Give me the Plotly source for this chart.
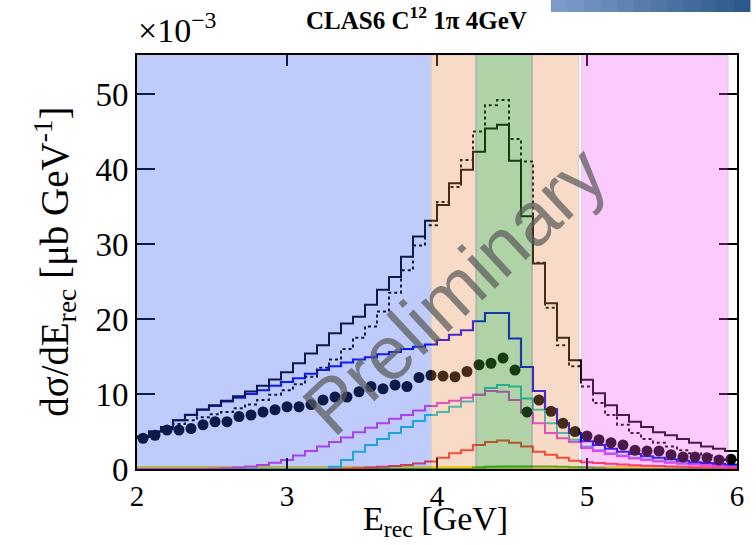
import numpy as np
import plotly.graph_objects as go

# ---------------- data ----------------
bin_edges = np.round(np.linspace(2.0, 6.0, 51), 2)          # 50 bins of 0.08 GeV
bin_centers = np.round((bin_edges[:-1] + bin_edges[1:]) / 2, 2)

total_mc = [4.3, 5.0, 5.6, 6.5, 7.25, 7.95, 8.5, 9.1, 9.7, 10.35,
            11.1, 11.95, 12.9, 14.1, 15.4, 16.5, 18.1, 19.4, 20.3, 21.9,
            23.9, 25.6, 28.3, 31.0, 33.1, 35.2, 38.1, 39.9, 42.3, 45.4,
            45.9, 41.1, 33.7, 27.4, 22.1, 17.5, 14.5, 11.9, 10.1, 8.5,
            7.2, 6.3, 5.6, 4.9, 4.5, 4.0, 3.5, 3.0, 2.7, 2.4]

total_alt = [4.2, 4.8, 5.35, 6.0, 6.5, 6.9, 7.3, 7.6, 8.1, 8.6,
             9.2, 9.9, 10.5, 11.3, 12.3, 13.5, 14.6, 16.0, 17.5, 19.0,
             21.0, 23.5, 26.5, 29.8, 32.5, 35.6, 37.6, 41.2, 45.0, 48.5,
             49.2, 44.0, 41.0, 27.5, 21.5, 16.5, 13.7, 11.0, 8.8, 7.2,
             5.9, 4.8, 4.0, 3.5, 3.0, 2.5, 2.1, 1.8, 1.5, 1.2]

comp_blue = [4.3, 5.0, 5.6, 6.5, 7.2, 7.9, 8.4, 9.0, 9.5, 10.0,
             10.5, 11.1, 11.6, 12.1, 12.7, 13.2, 13.7, 14.2, 14.6, 14.9,
             15.3, 15.6, 16.0, 16.3, 16.6, 17.2, 17.9, 18.5, 19.7, 20.8,
             20.8, 17.4, 13.6, 10.4, 8.0, 6.1, 4.8, 3.7, 3.2, 2.7,
             2.3, 2.0, 1.7, 1.5, 1.3, 1.1, 0.9, 0.8, 0.7, 0.6]

comp_magenta = [0.0, 0.0, 0.0, 0.0, 0.0, 0.0, 0.05, 0.1, 0.2, 0.35,
                0.55, 0.85, 1.2, 1.8, 2.4, 3.0, 3.6, 4.2, 4.9, 5.5,
                6.1, 6.7, 7.2, 7.8, 8.4, 8.8, 9.1, 9.5, 9.9, 10.4,
                10.3, 9.2, 7.5, 6.1, 4.8, 4.1, 3.6, 2.8, 2.4, 2.0,
                1.7, 1.4, 1.2, 1.0, 0.85, 0.7, 0.6, 0.5, 0.4, 0.35]

comp_cyan = [0.0, 0.0, 0.0, 0.0, 0.0, 0.0, 0.0, 0.0, 0.0, 0.0,
             0.0, 0.0, 0.0, 0.0, 0.0, 0.0, 0.3, 1.2, 2.3, 3.2,
             4.0, 4.8, 5.6, 6.4, 7.2, 7.6, 8.3, 9.0, 9.9, 10.8,
             11.2, 11.0, 9.4, 7.9, 6.1, 4.8, 3.9, 3.0, 2.5, 2.1,
             1.8, 1.5, 1.3, 1.1, 0.9, 0.8, 0.7, 0.6, 0.5, 0.45]

comp_red = [0.0, 0.0, 0.0, 0.0, 0.0, 0.0, 0.0, 0.0, 0.0, 0.0,
            0.0, 0.0, 0.0, 0.0, 0.0, 0.0, 0.0, 0.05, 0.1, 0.2,
            0.3, 0.4, 0.55, 0.75, 1.0, 1.5, 2.1, 2.5, 3.2, 3.6,
            3.8, 3.5, 3.0, 2.3, 1.9, 1.5, 1.1, 0.9, 0.8, 0.7,
            0.6, 0.5, 0.45, 0.4, 0.35, 0.3, 0.25, 0.2, 0.2, 0.15]

comp_green = [0.0, 0.0, 0.0, 0.0, 0.0, 0.0, 0.0, 0.0, 0.0, 0.0,
              0.0, 0.0, 0.0, 0.0, 0.0, 0.0, 0.0, 0.0, 0.0, 0.0,
              0.0, 0.0, 0.0, 0.0, 0.0, 0.0, 0.0, 0.0, 0.2, 0.3,
              0.35, 0.35, 0.35, 0.35, 0.35, 0.3, 0.25, 0.2, 0.1, 0.0,
              0.0, 0.0, 0.0, 0.0, 0.0, 0.0, 0.0, 0.0, 0.0, 0.0]

comp_yellow = [0.2, 0.2, 0.2, 0.2, 0.2, 0.2, 0.2, 0.2, 0.2, 0.2,
               0.2, 0.2, 0.2, 0.2, 0.2, 0.2, 0.2, 0.2, 0.2, 0.2,
               0.2, 0.2, 0.2, 0.2, 0.2, 0.2, 0.2, 0.2, 0.2, 0.2,
               0.2, 0.2, 0.2, 0.2, 0.2, 0.2, 0.2, 0.2, 0.2, 0.2,
               0.2, 0.2, 0.2, 0.2, 0.2, 0.2, 0.2, 0.2, 0.2, 0.2]

data_points = [4.1, 4.5, 5.2, 5.2, 5.4, 5.9, 6.3, 6.3, 7.0, 7.2,
               7.6, 7.9, 8.3, 8.3, 8.6, 9.2, 9.6, 9.6, 10.3, 11.0,
               10.7, 11.2, 11.0, 12.2, 12.5, 12.4, 12.3, 13.0, 13.9, 14.1,
               14.8, 13.2, 7.6, 9.2, 7.7, 6.1, 5.0, 4.4, 3.9, 3.5,
               3.2, 2.5, 2.4, 2.4, 1.9, 1.6, 1.6, 1.5, 1.2, 1.3]

# coloured energy regions (GeV) and their fill colours
region_edges = [(2.0, 3.955), (3.962, 4.26), (4.26, 4.634), (4.634, 4.945), (4.965, 5.94)]
region_colors = ["rgb(45,85,242)", "rgb(235,138,72)", "rgb(57,147,37)",
                 "rgb(235,138,72)", "rgb(248,82,248)"]
region_opac = [0.30, 0.30, 0.40, 0.30, 0.30]

x_ticks = [2, 3, 4, 5, 6]
y_ticks = [0, 10, 20, 30, 40, 50]

# ---------------- figure ----------------
fig = go.Figure()


def step(values, color, width, dash="solid"):
    fig.add_trace(go.Scatter(
        x=bin_edges, y=list(values) + [values[-1]], mode="lines",
        line=dict(color=color, width=width, shape="hv", dash=dash),
        showlegend=False, hoverinfo="skip"))


step(comp_yellow, "rgb(245,225,0)", 3)
step(comp_green, "rgb(40,170,40)", 2)
step(comp_red, "rgb(255,50,50)", 2)
step(comp_cyan, "rgb(20,200,215)", 2)
step(comp_magenta, "rgb(220,60,235)", 2)
step(comp_blue, "rgb(0,0,255)", 2.2)
step(total_alt, "black", 2, dash="dot")
step(total_mc, "black", 2)

fig.add_trace(go.Scatter(
    x=bin_centers, y=data_points, mode="markers",
    marker=dict(color="black", size=11, line=dict(width=0)),
    showlegend=False, hoverinfo="skip"))

shapes = []
for (x0, x1), c, op in zip(region_edges, region_colors, region_opac):
    shapes.append(dict(type="rect", xref="x", yref="y", x0=x0, x1=x1, y0=0, y1=55.2,
                       fillcolor=c, opacity=op, layer="above",
                       line=dict(color="rgb(90,90,110)", width=1)))

# slide decoration at the top right (gradient bar)
n_strip = 12
for i in range(n_strip):
    t = i / (n_strip - 1)
    r = int(125 + (45 - 125) * t)
    g = int(155 + (90 - 155) * t)
    b = int(200 + (140 - 200) * t)
    x0 = (555 - 137) / 606 + i * (201 / 606) / n_strip
    shapes.append(dict(type="rect", xref="paper", yref="paper",
                       x0=x0, x1=x0 + (201 / 606) / n_strip + 0.001,
                       y0=(469 - 12) / 414, y1=(469 - 0) / 414,
                       fillcolor=f"rgb({r},{g},{b})", line=dict(width=0), layer="above"))

serif = "Liberation Serif"

annotations = [
    dict(text="<b>CLAS6 C<sup>12</sup> 1π 4GeV</b>", xref="paper", yref="paper",
         x=(419 - 137) / 606, y=(469 - 18) / 414, xanchor="center", yanchor="middle",
         showarrow=False, font=dict(family=serif, size=25, color="black")),
    dict(text="×10<sup>−3</sup>", xref="paper", yref="paper",
         x=-0.002, y=(469 - 28) / 414, xanchor="left", yanchor="middle",
         showarrow=False, font=dict(family=serif, size=34, color="black")),
    dict(text="dσ/dE<sub>rec</sub> [μb GeV<sup>-1</sup>]", xref="paper", yref="paper",
         x=(54 - 137) / 606, y=(469 - 262) / 414, xanchor="center", yanchor="middle",
         textangle=-90, showarrow=False, font=dict(family=serif, size=39, color="black")),
    dict(text="E<sub>rec</sub> [GeV]", xref="paper", yref="paper",
         x=(438 - 137) / 606, y=(469 - 521) / 414, xanchor="center", yanchor="middle",
         showarrow=False, font=dict(family=serif, size=34, color="black")),
    dict(text="Preliminary", xref="paper", yref="paper",
         x=(457 - 137) / 606, y=(469 - 290) / 414, xanchor="center", yanchor="middle",
         textangle=-43, showarrow=False,
         font=dict(family="Liberation Sans", size=76, color="rgba(90,90,90,0.72)")),
]

fig.update_layout(
    width=756, height=545,
    margin=dict(l=137, r=13, t=55, b=76, pad=0),
    paper_bgcolor="white", plot_bgcolor="white",
    shapes=shapes, annotations=annotations,
    showlegend=False,
)

fig.update_xaxes(range=[2, 6], tickvals=x_ticks, ticktext=[str(v) for v in x_ticks],
                 ticks="inside", ticklen=11, tickwidth=2, tickcolor="black",
                 showline=True, linecolor="black", linewidth=2, mirror="ticks",
                 showgrid=False, zeroline=False,
                 tickfont=dict(family=serif, size=29, color="black"))
fig.update_yaxes(range=[0, 55.2], tickvals=y_ticks, ticktext=[str(v) for v in y_ticks],
                 ticks="inside", ticklen=18, tickwidth=2, tickcolor="black",
                 showline=True, linecolor="black", linewidth=2, mirror="ticks",
                 showgrid=False, zeroline=False,
                 tickfont=dict(family=serif, size=33, color="black"))

fig.write_html("out.html")
